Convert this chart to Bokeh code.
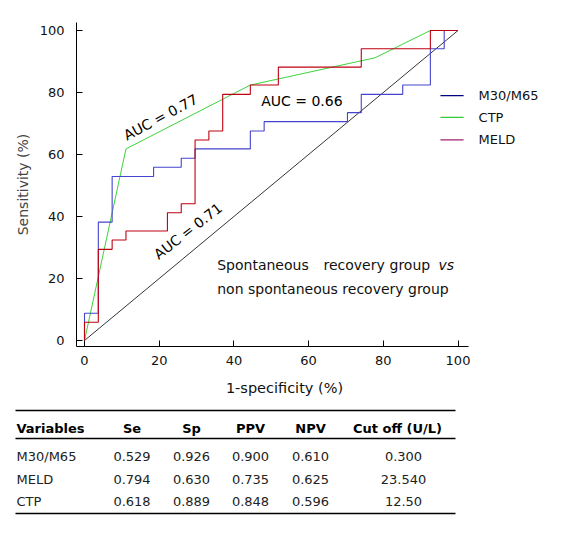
from bokeh.plotting import figure
from bokeh.models import Range1d, FixedTicker
from bokeh.layouts import column
from bokeh.embed import file_html
from bokeh.resources import INLINE
from bokeh.core.properties import value

# ---------------- data ----------------
# ROC curves (1-specificity %, sensitivity %), corner points
m30_fpr = [0, 0, 3.7, 3.7, 7.4, 7.4, 18.5, 18.5, 25.9, 25.9, 29.6, 29.6, 44.4, 44.4,
           48.1, 48.1, 70.4, 70.4, 74.1, 74.1, 85.2, 85.2, 92.6, 92.6, 96.3, 96.3, 100]
m30_tpr = [0, 8.8, 8.8, 38.2, 38.2, 52.9, 52.9, 55.9, 55.9, 58.8, 58.8, 61.8, 61.8, 67.6,
           67.6, 70.6, 70.6, 73.5, 73.5, 79.4, 79.4, 82.4, 82.4, 94.1, 94.1, 100, 100]

meld_fpr = [0, 0, 3.7, 3.7, 7.4, 7.4, 11.1, 11.1, 22.2, 22.2, 25.9, 25.9, 29.6, 29.6,
            33.3, 33.3, 37.0, 37.0, 44.4, 44.4, 51.9, 51.9, 74.1, 74.1, 92.6, 92.6, 100]
meld_tpr = [0, 5.9, 5.9, 29.4, 29.4, 32.4, 32.4, 35.3, 35.3, 41.2, 41.2, 44.1, 44.1, 64.7,
            64.7, 67.6, 67.6, 79.4, 79.4, 82.4, 82.4, 88.2, 88.2, 94.1, 94.1, 100, 100]

ctp_fpr = [0, 11.1, 44.4, 77.8, 92.6, 100]
ctp_tpr = [0, 61.8, 82.4, 91.2, 100, 100]

ref_fpr = [0, 100]
ref_tpr = [0, 100]

ticks = [0, 20, 40, 60, 80, 100]

series_names = ["M30/M65", "CTP", "MELD"]
auc_labels = ["AUC = 0.77", "AUC = 0.66", "AUC = 0.71"]

# table
tbl_headers = ["Variables", "Se", "Sp", "PPV", "NPV", "Cut off (U/L)"]
tbl_vars = ["M30/M65", "MELD", "CTP"]
tbl_se = ["0.529", "0.794", "0.618"]
tbl_sp = ["0.926", "0.630", "0.889"]
tbl_ppv = ["0.900", "0.735", "0.848"]
tbl_npv = ["0.610", "0.625", "0.596"]
tbl_cut = ["0.300", "23.540", "12.50"]

FONT = "DejaVu Sans"

# ---------------- ROC figure ----------------
p = figure(width=547, height=375,
           x_range=Range1d(-2.142, 123.96), y_range=Range1d(-1.935, 102.58),
           output_backend="svg", toolbar_location=None,
           min_border_left=76, min_border_right=0, min_border_top=22, min_border_bottom=29)
p.frame_align = False
p.outline_line_color = None
p.xgrid.visible = False
p.ygrid.visible = False
p.background_fill_color = "white"
p.border_fill_color = "white"

for ax in (p.xaxis[0], p.yaxis[0]):
    ax.ticker = FixedTicker(ticks=ticks)
    ax.major_tick_in = 6
    ax.major_tick_out = 0
    ax.minor_tick_line_color = None
    ax.axis_line_color = "black"
    ax.major_tick_line_color = "black"
    ax.major_label_text_font = FONT
    ax.major_label_text_font_size = "13px"
    ax.major_label_text_color = "#111111"
p.xaxis.bounds = (-2.142, 102.9)
p.xaxis.major_label_standoff = 9
p.yaxis.major_label_standoff = 12
p.yaxis.axis_label = "Sensitivity (%)"
p.yaxis.axis_label_text_font = FONT
p.yaxis.axis_label_text_font_size = "14px"
p.yaxis.axis_label_text_font_style = "normal"
p.yaxis.axis_label_standoff = 6

p.line(ref_fpr, ref_tpr, line_color="black", line_width=0.8)
p.line(ctp_fpr, ctp_tpr, line_color="#3cd33c", line_width=1)
p.line(m30_fpr, m30_tpr, line_color="#4444cc", line_width=1.1)
p.line(meld_fpr, meld_tpr, line_color="#c00010", line_width=1.1)

# legend (drawn by hand, to the right of the axes)
leg_colors = ["#000080", "#33cc33", "#a0206f"]
leg_y = [79.0, 72.0, 64.7]
p.segment(x0=[95.3] * 3, y0=leg_y, x1=[101.5] * 3, y1=leg_y, line_color=leg_colors, line_width=1.2)
p.text(x=[105.5] * 3, y=leg_y, text=series_names, text_align="left", text_baseline="middle",
       text_font=value(FONT), text_font_size="13px", text_color="#111111")

# AUC annotations
p.text(x=[20.35], y=[72.0], text=[auc_labels[0]], angle=0.49, text_align="center",
       text_baseline="middle", text_font=value(FONT), text_font_size="14px", text_color="black")
p.text(x=[47.3], y=[77.3], text=[auc_labels[1]], text_align="left",
       text_baseline="middle", text_font=value(FONT), text_font_size="14px", text_color="black")
p.text(x=[27.7], y=[35.3], text=[auc_labels[2]], angle=0.66, text_align="center",
       text_baseline="middle", text_font=value(FONT), text_font_size="14px", text_color="black")

# comparison note (line 1 justified word by word)
note1_words = ["Spontaneous", "recovery", "group"]
p.text(x=[35.53, 63.99, 81.66], y=[24.2] * 3, text=note1_words, text_align="left",
       text_baseline="alphabetic", text_font=value(FONT), text_font_size="14px", text_color="#111111")
p.text(x=[94.78], y=[24.2], text=["vs"], text_align="left", text_baseline="alphabetic",
       text_font=value(FONT), text_font_size="14px", text_font_style="italic", text_color="#111111")
p.text(x=[35.53], y=[16.7], text=["non spontaneous recovery group"], text_align="left",
       text_baseline="alphabetic", text_font=value(FONT), text_font_size="14px", text_color="#111111")

# ---------------- table figure ----------------
t = figure(width=547, height=142, x_range=Range1d(0, 547), y_range=Range1d(517, 375),
           x_axis_type=None, y_axis_type=None, output_backend="svg", toolbar_location=None,
           min_border=0, min_border_left=0, min_border_right=0, min_border_top=0, min_border_bottom=0)
t.frame_align = False
t.outline_line_color = None
t.background_fill_color = "white"
t.border_fill_color = "white"

t.text(x=[284], y=[387], text=["1-specificity (%)"], text_align="center", text_baseline="middle",
       text_font=value(FONT), text_font_size="14.5px", text_color="#111111")

t.segment(x0=[15, 15, 15], y0=[410, 438, 513], x1=[455, 455, 455], y1=[410, 438, 513],
          line_color="black", line_width=1.3)

hdr_y = 428
t.text(x=[16], y=[hdr_y], text=[tbl_headers[0]], text_align="left", text_baseline="middle",
       text_font=value(FONT), text_font_size="13px", text_font_style="bold", text_color="black")
col_x = [131.5, 191, 250, 310, 397]
t.text(x=col_x, y=[hdr_y] * 5, text=tbl_headers[1:], text_align="center", text_baseline="middle",
       text_font=value(FONT), text_font_size="13px", text_font_style="bold", text_color="black")

row_y = [456, 478.5, 501]
t.text(x=[16] * 3, y=row_y, text=tbl_vars, text_align="left", text_baseline="middle",
       text_font=value(FONT), text_font_size="13px", text_color="#222222")
for cx, vals in zip([131.5, 191, 250, 310, 403], [tbl_se, tbl_sp, tbl_ppv, tbl_npv, tbl_cut]):
    t.text(x=[cx] * 3, y=row_y, text=vals, text_align="center", text_baseline="middle",
           text_font=value(FONT), text_font_size="13px", text_color="#222222")

layout = column(p, t, spacing=0)
open("out.html", "w").write(file_html(layout, INLINE))
